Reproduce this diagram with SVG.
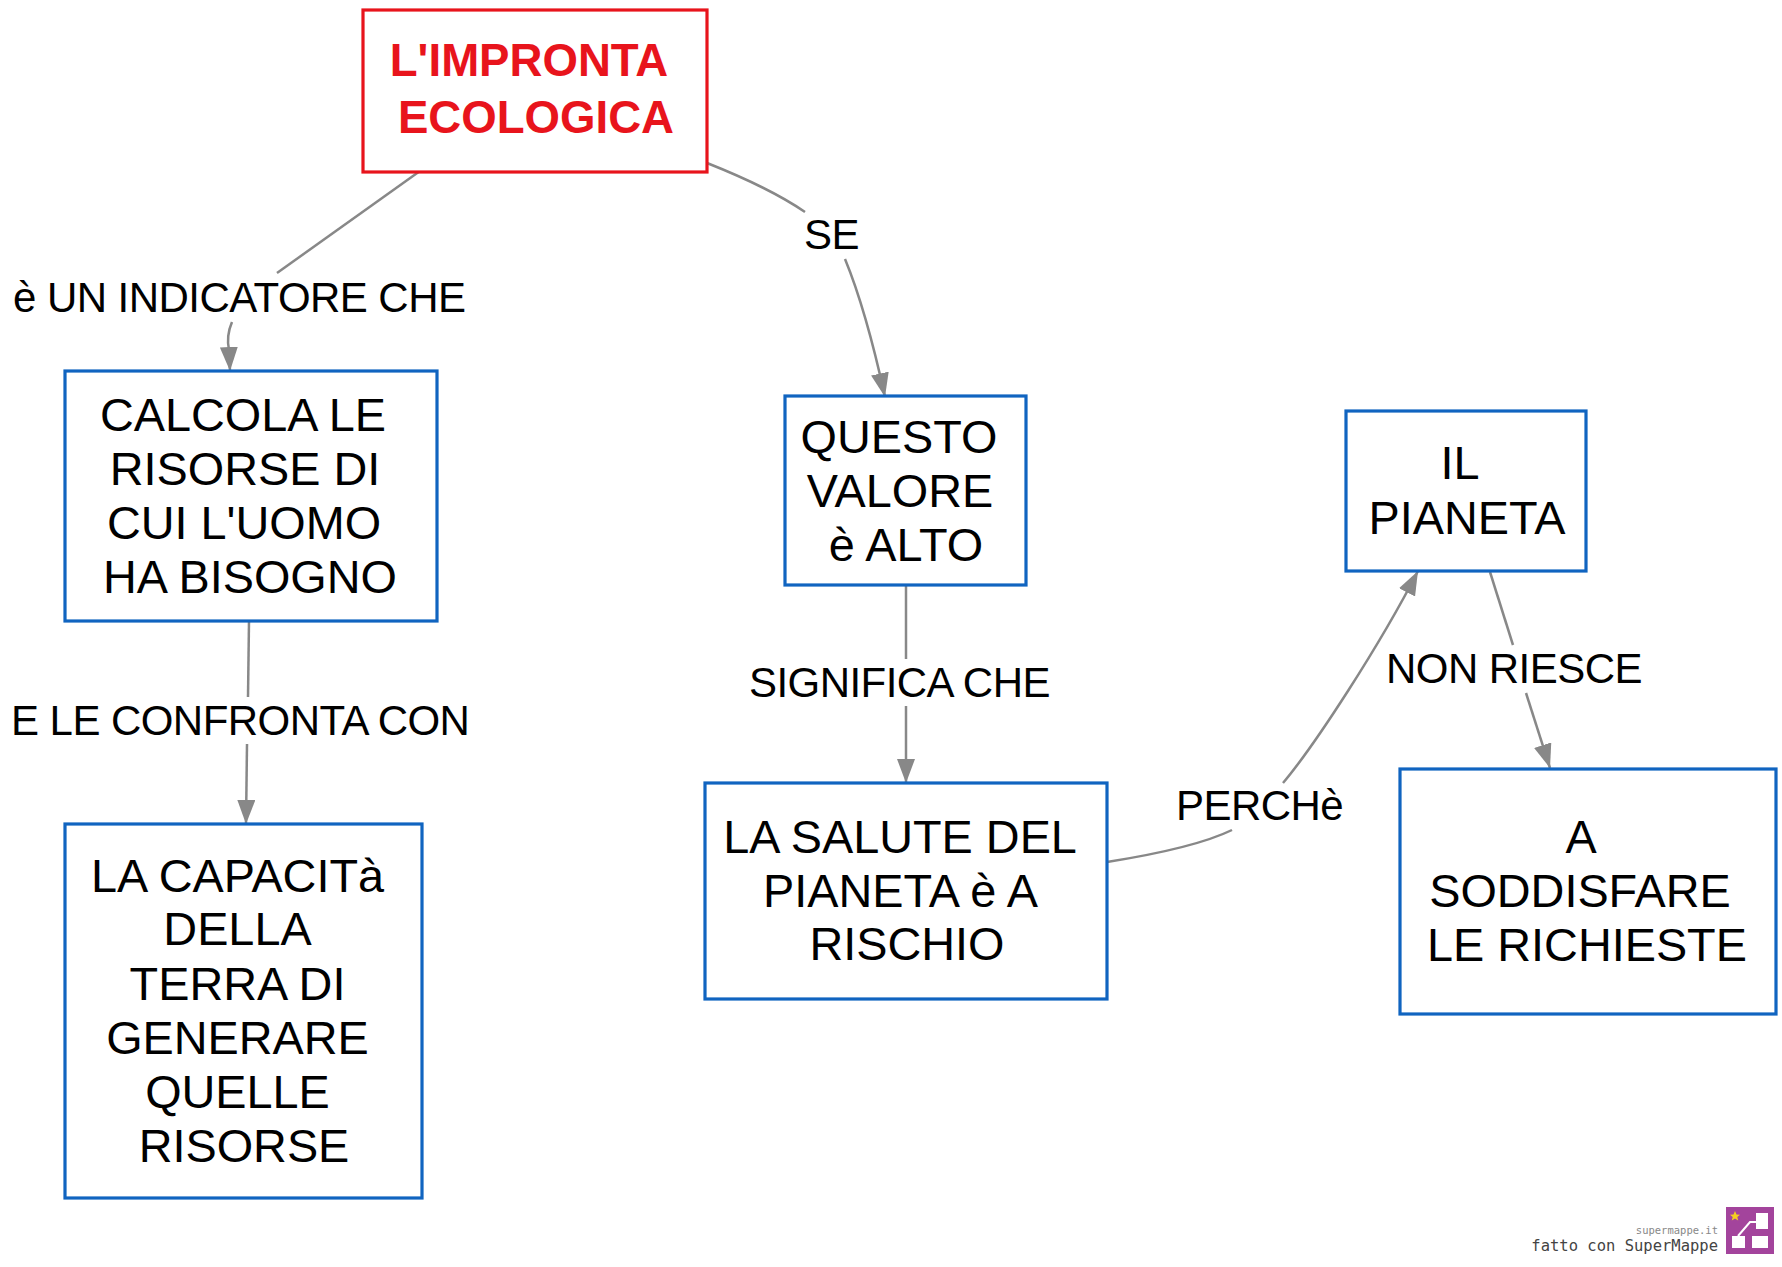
<svg xmlns="http://www.w3.org/2000/svg" width="1782" height="1267" viewBox="0 0 1782 1267">
<style>
.node{fill:#fff;stroke:#1064C0;stroke-width:3.2}
.root{fill:#fff;stroke:#E8141C;stroke-width:3.2}
.nt{font-family:"Liberation Sans",Arial,sans-serif;font-size:46.8px;fill:#000;text-anchor:middle}
.rt{font-family:"Liberation Sans",Arial,sans-serif;font-size:45.6px;font-weight:bold;fill:#E8141C;text-anchor:middle}
.lbl{font-family:"Liberation Sans",Arial,sans-serif;font-size:42px;letter-spacing:-0.55px;fill:#000}
.edge{fill:none;stroke:#888;stroke-width:2.5}
.wm{font-family:"DejaVu Sans Mono",monospace;text-anchor:end}
</style>
<defs>
<marker id="arr" markerUnits="userSpaceOnUse" markerWidth="24" markerHeight="18" refX="24" refY="9" orient="auto">
<path d="M0,0 L24,9 L0,18 Z" fill="#888"/>
</marker>
</defs>
<rect width="1782" height="1267" fill="#fff"/>
<g id="connectors">
<path class="edge" d="M420,171 L277,273"/>
<path class="edge" d="M232,322 Q226,336 229,350 L230,371" marker-end="url(#arr)"/>
<path class="edge" d="M707,163 Q770,188 805,212"/>
<path class="edge" d="M845,259 Q866,310 885,397" marker-end="url(#arr)"/>
<path class="edge" d="M249,621 L248,697"/>
<path class="edge" d="M247,744 L246,824" marker-end="url(#arr)"/>
<path class="edge" d="M906,585 L906,659"/>
<path class="edge" d="M906,706 L906,783" marker-end="url(#arr)"/>
<path class="edge" d="M1107,862 Q1195,848 1232,830"/>
<path class="edge" d="M1283,783 C1315,745 1380,645 1418,571" marker-end="url(#arr)"/>
<path class="edge" d="M1490,572 L1513,645"/>
<path class="edge" d="M1526,693 L1550,768" marker-end="url(#arr)"/>
<text class="lbl" x="13" y="312">è UN INDICATORE CHE</text>
<text class="lbl" x="804" y="249">SE</text>
<text class="lbl" x="11" y="735">E LE CONFRONTA CON</text>
<text class="lbl" x="749" y="697">SIGNIFICA CHE</text>
<text class="lbl" x="1176" y="820">PERCHè</text>
<text class="lbl" x="1386" y="683">NON RIESCE</text>
</g>
<g id="n-root">
<rect class="root" x="363" y="10" width="344" height="162"/>
<text class="rt" x="529" y="76">L'IMPRONTA</text>
<text class="rt" x="536" y="133">ECOLOGICA</text>
</g>
<g id="n-calcola">
<rect class="node" x="65" y="371" width="372" height="250"/>
<text class="nt" x="243" y="431">CALCOLA LE</text>
<text class="nt" x="245" y="485">RISORSE DI</text>
<text class="nt" x="244" y="539">CUI L'UOMO</text>
<text class="nt" x="250" y="593">HA BISOGNO</text>
</g>
<g id="n-capacita">
<rect class="node" x="65" y="824" width="357" height="374"/>
<text class="nt" x="237.5" y="891.5">LA CAPACITà</text>
<text class="nt" x="237.5" y="945">DELLA</text>
<text class="nt" x="237.5" y="999.5">TERRA DI</text>
<text class="nt" x="237.5" y="1053.5">GENERARE</text>
<text class="nt" x="237.5" y="1107.5">QUELLE</text>
<text class="nt" x="244" y="1161.5">RISORSE</text>
</g>
<g id="n-questo">
<rect class="node" x="785" y="396" width="241" height="189"/>
<text class="nt" x="899" y="453">QUESTO</text>
<text class="nt" x="900" y="507">VALORE</text>
<text class="nt" x="906" y="561">è ALTO</text>
</g>
<g id="n-salute">
<rect class="node" x="705" y="783" width="402" height="216"/>
<text class="nt" x="900" y="853">LA SALUTE DEL</text>
<text class="nt" x="900.5" y="907">PIANETA è A</text>
<text class="nt" x="907" y="960">RISCHIO</text>
</g>
<g id="n-pianeta">
<rect class="node" x="1346" y="411" width="240" height="160"/>
<text class="nt" x="1460" y="479">IL</text>
<text class="nt" x="1467" y="534">PIANETA</text>
</g>
<g id="n-soddisfare">
<rect class="node" x="1400" y="769" width="376" height="245"/>
<text class="nt" x="1581" y="853">A</text>
<text class="nt" x="1580" y="907">SODDISFARE</text>
<text class="nt" x="1587" y="961">LE RICHIESTE</text>
</g>
<g id="watermark">
<text class="wm" x="1718" y="1234" font-size="10.5" fill="#888">supermappe.it</text>
<text class="wm" x="1718" y="1251" font-size="15.5" fill="#444">fatto con SuperMappe</text>
<rect x="1726" y="1207" width="48" height="47" fill="#A3449C"/>
<rect x="1732" y="1236" width="13" height="12" fill="#fff"/>
<rect x="1752" y="1236" width="16" height="12" fill="#fff"/>
<rect x="1756" y="1213" width="12" height="16" fill="#fff"/>
<polyline points="1738,1236 1750,1222 1756,1222" fill="none" stroke="#fff" stroke-width="2"/>
<polygon points="1735,1211 1736.5,1214.5 1740,1214.8 1737.3,1217 1738.2,1220.5 1735,1218.5 1731.8,1220.5 1732.7,1217 1730,1214.8 1733.5,1214.5" fill="#F5D020"/>
</g>
</svg>
